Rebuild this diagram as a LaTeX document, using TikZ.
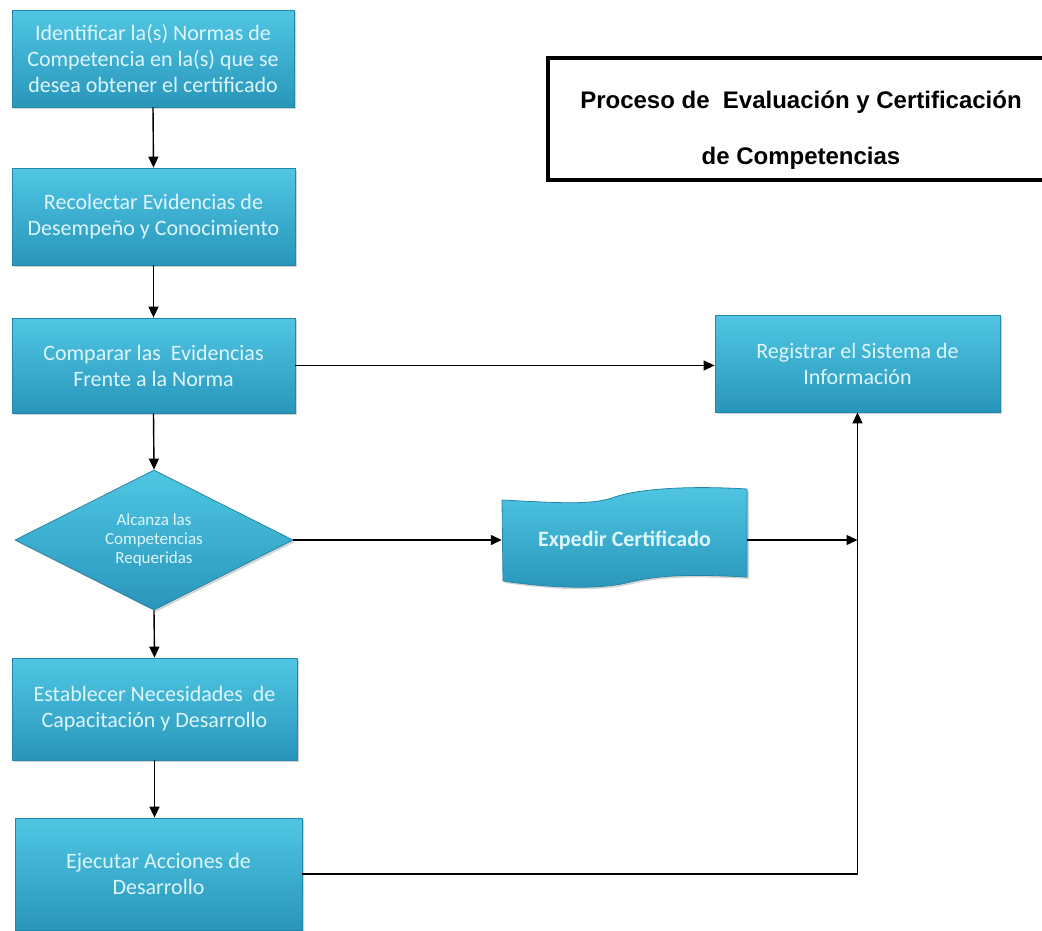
\documentclass[tikz,border=0pt]{standalone}
\usepackage{fontspec}
\setmainfont{Carlito}
\newfontfamily\titulofont{Liberation Sans}
\usetikzlibrary{calc,shapes.geometric,arrows.meta,shadows}

\definecolor{cielo}{HTML}{50C6E4}
\definecolor{cieloosc}{HTML}{2896BA}
\definecolor{borde}{HTML}{2387A8}
\definecolor{letra}{HTML}{DDF5FB}

\tikzset{
  paso/.style={rectangle, top color=cielo, bottom color=cieloosc, draw=borde, line width=0.8pt,
    align=center, text=letra, inner sep=0pt, font=\fontsize{22}{26}\selectfont,
    drop shadow={shadow xshift=2pt, shadow yshift=-2pt, opacity=0.35}},
  decision/.style={diamond, top color=cielo, bottom color=cieloosc, draw=borde, line width=0.8pt,
    align=center, text=letra, inner sep=0pt, aspect=2, font=\fontsize{17}{19}\selectfont,
    drop shadow={shadow xshift=2pt, shadow yshift=-2pt, opacity=0.35}},
  flecha/.style={-{Triangle[length=11pt,width=10pt]}, line width=1.4pt, black},
}

\begin{document}
\begin{tikzpicture}[x=1pt,y=-1pt]
     \useasboundingbox (0,0) rectangle (1042,930);
     %\draw[step=50,very thin,color=blue!20] (0,0) grid (1042,930);
     \coordinate (I) at (153,58.5);
     \coordinate (R) at (153.5,216.5);
     \coordinate (C) at (153.5,365.5);
     \coordinate (D) at (154,540);
     \coordinate (E) at (154.5,709);
     \coordinate (J) at (158.5,874);
     \coordinate (S) at (857.5,363.5);
     \coordinate (X) at (624.5,540);

     \node[paso, minimum width=282pt, minimum height=97pt] (id) at (I)
          {Identificar la(s) Normas de\\Competencia en la(s) que se\\desea obtener el certificado};
     \node[paso, minimum width=283pt, minimum height=97pt] (rec) at (R)
          {Recolectar Evidencias de\\Desempeño y Conocimiento};
     \node[paso, minimum width=283pt, minimum height=95pt] (com) at (C)
          {Comparar las~ Evidencias\\Frente a la Norma};
     \node[decision, minimum width=278pt, minimum height=140pt] (dec) at (D)
          {Alcanza las\\Competencias\\Requeridas};
     \node[paso, minimum width=285pt, minimum height=102pt] (est) at (E)
          {Establecer Necesidades~ de\\Capacitación y Desarrollo};
     \node[paso, minimum width=287pt, minimum height=112pt] (eje) at (J)
          {Ejecutar Acciones de\\Desarrollo};
     \node[paso, minimum width=285pt, minimum height=97pt] (reg) at (S)
          {Registrar el Sistema de\\Información};

     % cinta de Expedir Certificado
     \draw[top color=cielo, bottom color=cieloosc, draw=borde, line width=0.8pt,
           drop shadow={shadow xshift=2pt, shadow yshift=-2pt, opacity=0.35}]
          (502,500) .. controls (560,503) and (590,505) .. (612,498)
          .. controls (632,490) and (680,485) .. (747,489) -- (747,577)
          .. controls (690,574) and (660,575) .. (630,582)
          .. controls (600,590) and (550,588) .. (503,581) -- cycle;
     \node[minimum width=245pt, minimum height=80pt, inner sep=0pt, text=letra,
           font=\fontsize{22}{25}\selectfont\bfseries] (exp) at (X) {Expedir Certificado};

     % marco del titulo, abierto a la derecha
     \draw[line width=4pt] (1080,58) -- (548,58) -- (548,180) -- (1080,180);
     \node[align=center, font=\titulofont\bfseries\fontsize{24}{56}\selectfont] (titulo) at (801,130)
          {Proceso de~ Evaluación y Certificación\\de Competencias};

     \coordinate (cruce) at (reg.south |- exp.east);
     \draw[flecha] (id.south) -- (rec.north);
     \draw[flecha] (rec.south) -- (com.north);
     \draw[flecha] (com.south) -- (dec.north);
     \draw[flecha] (com.east) -- (com.east -| reg.west);
     \draw[flecha] (dec.east) -- (exp.west);
     \draw[flecha] (exp.east) -- (cruce);
     \draw[flecha] (dec.south) -- (est.north);
     \draw[flecha] (est.south) -- (est.south |- eje.north);
     \draw[flecha] (eje.east) -| (reg.south);
\end{tikzpicture}
\end{document}
